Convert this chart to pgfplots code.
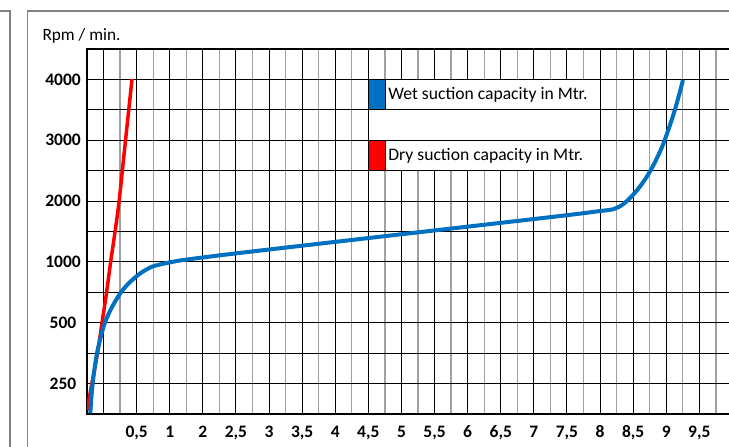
\documentclass[border=0pt]{standalone}
\usepackage{pgfplots}
\pgfplotsset{compat=1.18}
\usepackage{fontspec}
\setmainfont{Carlito}
\definecolor{wetblue}{HTML}{0070C0}
\definecolor{gridgray}{HTML}{A0A0A0}
\definecolor{framegray}{HTML}{808080}

\begin{document}
\begin{tikzpicture}
\useasboundingbox (0,0) rectangle (729pt,447pt);
\clip (0,0) rectangle (729pt,447pt);
\fill[white] (0,0) rectangle (729pt,447pt);
% panel frames
\draw[framegray, line width=1.3pt] (0,436pt) -- (10pt,436pt) -- (10pt,-2pt);
\draw[framegray, line width=1.3pt] (27.5pt,-2pt) -- (27.5pt,436pt) -- (735pt,436pt);

\begin{axis}[
    at={(87pt,33pt)}, anchor=south west,
    scale only axis, width=645.45pt, height=365pt,
    xmin=0, xmax=39, ymin=0, ymax=12,
    axis line style={line width=2pt},
    xtick={1,3,...,37},
    xticklabels={{},{0,5},1,2,{2,5},3,{3,5},4,{4,5},5,{5,5},6,{6,5},7,{7,5},8,{8,5},9,{9,5}},
    minor xtick={2,4,...,38},
    ytick={1,2,...,11},
    yticklabels={250,,500,,1000,,2000,,3000,,4000},
    major tick length=0pt, minor tick length=0pt,
    grid=both,
    major grid style={black, line width=1pt},
    minor grid style={gridgray, line width=1.3pt},
    ticklabel style={font=\fontsize{17.5}{20}\selectfont\bfseries, inner sep=0pt},
    xticklabel style={anchor=base, yshift=-23.5pt},
    yticklabel style={anchor=center, xshift=-24pt},
    ylabel={Rpm / min.},
    every axis y label/.style={at={(axis description cs:0,1)}, anchor=base west,
      inner sep=0pt, xshift=-44.7pt, yshift=8.3pt, font=\fontsize{17.3}{20}\selectfont},
  ]

  %% dry suction capacity (x in grid columns, y in grid rows)
  \addplot[red, line width=3.5pt, smooth] coordinates {
    (0.000, 0.131) (0.302, 1.019) (0.634, 2.005) (0.906, 2.991) (1.178, 3.978)
    (1.420, 4.964) (1.692, 5.983) (1.934, 6.969) (2.266, 8.679) (2.719, 11.013)
  };

  %% wet suction capacity
  \addplot[wetblue, line width=4pt, smooth] coordinates {
    (0.199, 0.023) (0.260, 0.516) (0.344, 1.009) (0.459, 1.502) (0.604, 1.995)
    (0.816, 2.498) (1.069, 2.982) (1.480, 3.485) (2.012, 3.968) (2.520, 4.297)
    (3.221, 4.625) (3.927, 4.842) (4.731, 4.954) (5.619, 5.046) (6.828, 5.135)
    (9.849, 5.335) (18.912, 5.904) (28.580, 6.509) (30.997, 6.673) (31.782, 6.729)
    (32.326, 6.870) (32.810, 7.101) (33.293, 7.396) (33.776, 7.758) (34.260, 8.218)
    (34.743, 8.777) (35.166, 9.402) (35.589, 10.125) (36.012, 10.980)
  };

  %% legend box
  \fill[white] (axis cs:17,8) rectangle (axis cs:31,11);
  \fill[wetblue] (axis cs:17,10) rectangle (axis cs:18,11);
  \fill[red] (axis cs:17,8) rectangle (axis cs:18,9);
  \draw[black, line width=1pt] (axis cs:17,8) -- (axis cs:31,8);
  \draw[black, line width=1pt] (axis cs:17,9) -- (axis cs:31,9);
  \draw[black, line width=1pt] (axis cs:17,10) -- (axis cs:31,10);
  \draw[black, line width=1pt] (axis cs:17,11) -- (axis cs:31,11);
  \draw[black, line width=1pt] (axis cs:17,8) -- (axis cs:17,11);
  \draw[black, line width=1pt] (axis cs:31,8) -- (axis cs:31,11);
  \draw[black, line width=0.6pt] (axis cs:18,8) -- (axis cs:18,9);
  \draw[black, line width=0.6pt] (axis cs:18,10) -- (axis cs:18,11);
  \node[anchor=west, inner sep=0pt, font=\fontsize{17.6}{20}\selectfont]
    at (axis cs:18.2,10.5) {Wet suction capacity in Mtr.};
  \node[anchor=west, inner sep=0pt, font=\fontsize{17.6}{20}\selectfont]
    at (axis cs:18.2,8.5) {Dry suction capacity in Mtr.};
\end{axis}
\end{tikzpicture}
\end{document}
